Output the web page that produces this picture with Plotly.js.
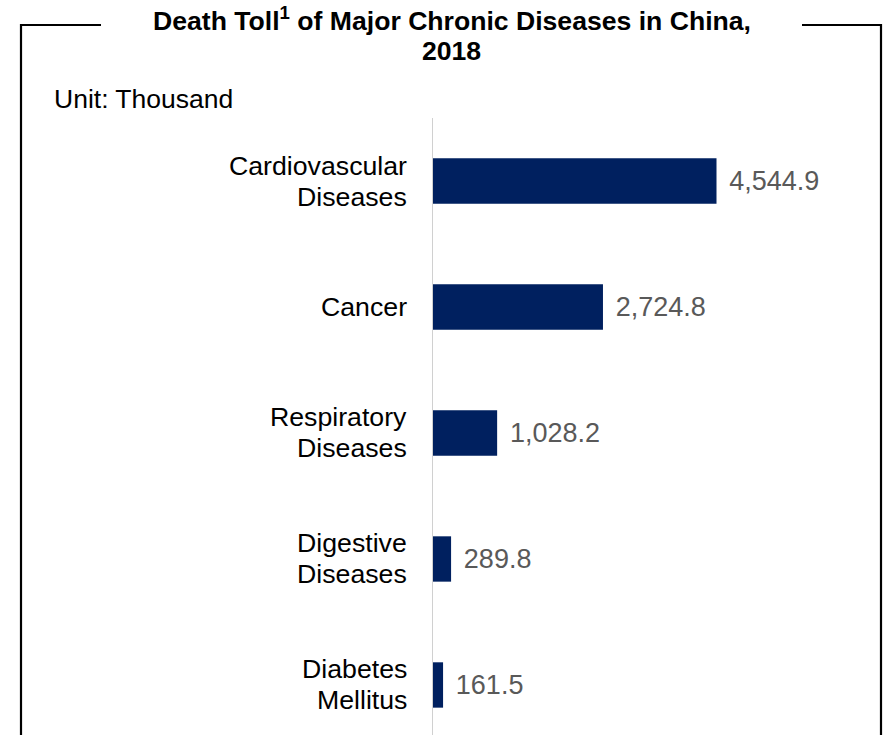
<!DOCTYPE html>
<html>
<head>
<meta charset="utf-8">
<script src="https://cdn.plot.ly/plotly-3.0.1.min.js"></script>
<style>html,body{margin:0;padding:0;background:#fff;}#chart{width:887px;height:735px;}</style>
</head>
<body>
<div id="chart"></div>
<script>
var categories = ["Cardiovascular Diseases", "Cancer", "Respiratory Diseases", "Digestive Diseases", "Diabetes Mellitus"];
var labelLines = [["Cardiovascular", "Diseases"], ["Cancer"], ["Respiratory", "Diseases"], ["Digestive", "Diseases"], ["Diabetes", "Mellitus"]];
var deaths = [4544.9, 2724.8, 1028.2, 289.8, 161.5];
var valueLabels = ["4,544.9", "2,724.8", "1,028.2", "289.8", "161.5"];
var titleLines = ["Death Toll<sup>1</sup> of Major Chronic Diseases in China,", "2018"];
var unitText = "Unit: Thousand";

var FONT = "Arial, 'Liberation Sans', sans-serif";
var W = 887, H = 735, L = 433, R = 0, T = 118, B = 0;
var PW = W - L - R, PH = H - T - B;
function px(x){ return (x - L) / PW; }
function py(y){ return (H - B - y) / PH; }
var xmax = PW * 4544.9 / 283.5;

var trace = {
  type: 'bar',
  orientation: 'h',
  y: categories,
  x: deaths,
  text: valueLabels.map(function(s){ return '\u00a0\u200a' + s; }),
  textposition: 'outside',
  cliponaxis: false,
  textfont: {family: FONT, size: 27, color: '#595959'},
  marker: {color: '#00205f', line: {width: 0}},
  width: 0.36,
  hoverinfo: 'skip'
};

var annotations = [];
titleLines.forEach(function(t, i){
  annotations.push({
    text: '<b>' + t + '</b>',
    xref: 'paper', yref: 'paper',
    x: px(451.5), y: py(i === 0 ? 18.5 : 51),
    xanchor: 'center', yanchor: 'middle',
    showarrow: false,
    font: {family: FONT, size: 26.6, color: '#000000'}
  });
});
annotations.push({
  text: unitText,
  xref: 'paper', yref: 'paper',
  x: px(52), y: py(99), xanchor: 'left', yanchor: 'middle',
  showarrow: false,
  font: {family: FONT, size: 26.5, color: '#000000'}
});
labelLines.forEach(function(lines, ci){
  var n = lines.length;
  lines.forEach(function(line, li){
    annotations.push({
      text: line,
      xref: 'paper', yref: 'y',
      x: px(409), y: categories[ci],
      yshift: -((li - (n - 1) / 2) * 31),
      xanchor: 'right', yanchor: 'middle',
      showarrow: false,
      font: {family: FONT, size: 26.7, color: '#000000'}
    });
  });
});

var layout = {
  width: W, height: H,
  margin: {l: L, r: R, t: T, b: B, pad: 0},
  paper_bgcolor: '#ffffff',
  plot_bgcolor: '#ffffff',
  showlegend: false,
  font: {family: FONT, size: 26, color: '#000000'},
  xaxis: {
    range: [0, xmax],
    showgrid: false, zeroline: false, showline: false,
    showticklabels: false, ticks: ''
  },
  yaxis: {
    type: 'category',
    categoryarray: categories,
    range: [4.397, -0.5],
    showgrid: false, zeroline: false,
    showline: true, linecolor: '#d0d0d0', linewidth: 1.5,
    ticks: '', showticklabels: false
  },
  annotations: annotations,
  shapes: [{
    type: 'path', xref: 'paper', yref: 'paper',
    path: 'M ' + px(21) + ' ' + py(H + 20) + ' L ' + px(21) + ' ' + py(25) + ' L ' + px(101) + ' ' + py(25) +
          ' M ' + px(802) + ' ' + py(25) + ' L ' + px(881) + ' ' + py(25) + ' L ' + px(881) + ' ' + py(H + 20),
    line: {color: '#000000', width: 2.2}
  }]
};

Plotly.newPlot('chart', [trace], layout, {displayModeBar: false, staticPlot: true});
</script>
</body>
</html>
